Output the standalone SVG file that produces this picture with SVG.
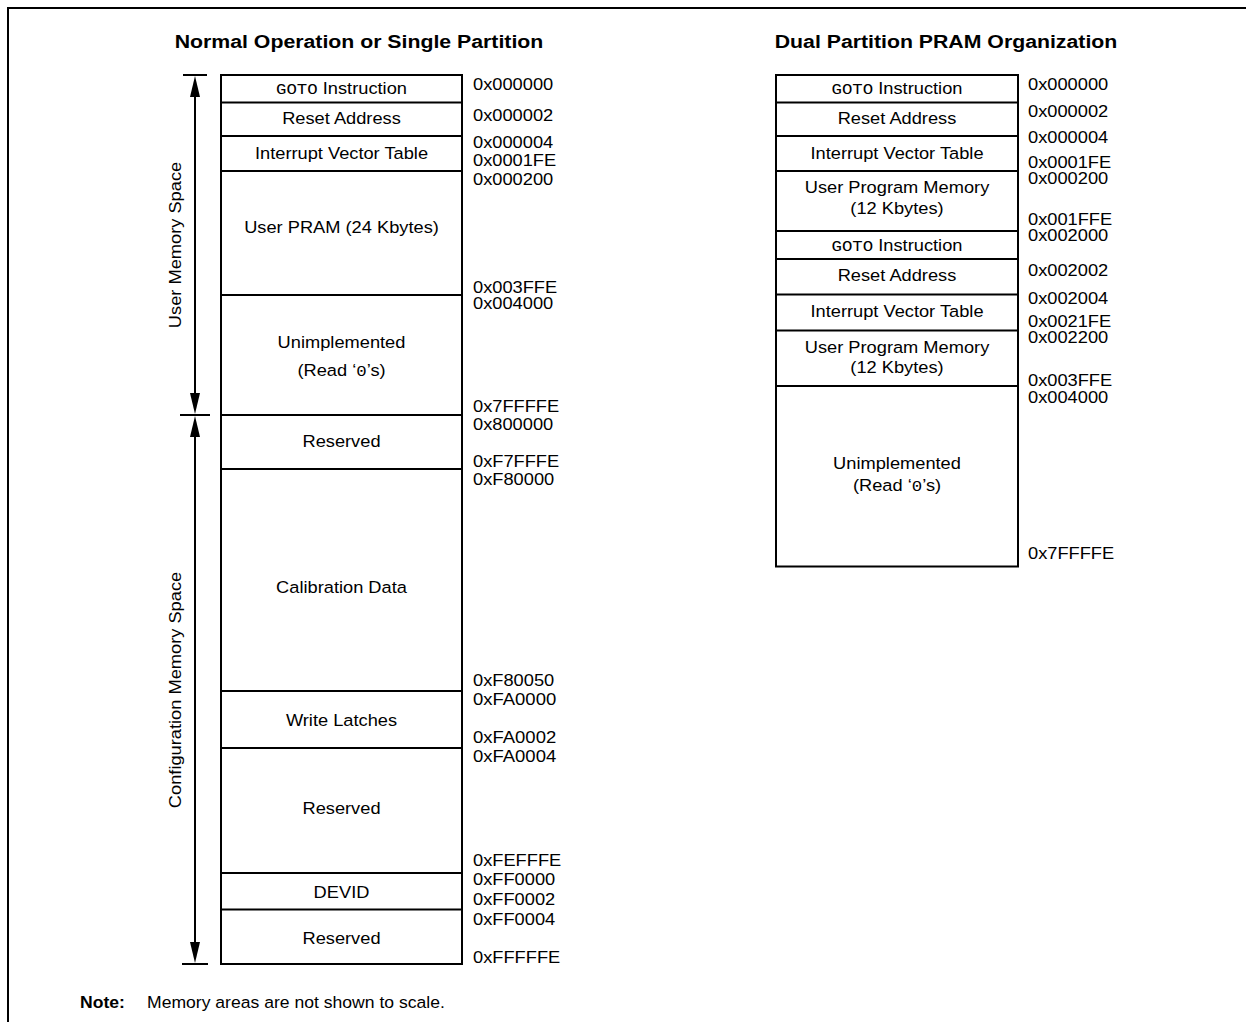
<svg xmlns="http://www.w3.org/2000/svg" width="1246" height="1022" viewBox="0 0 1246 1022">
<style>
text{font-family:"Liberation Sans",Arial,sans-serif;fill:#000}
.lbl{font-size:16.3px;text-anchor:middle}
.addr{font-size:16.3px}
.hd{font-size:19px;font-weight:bold;text-anchor:middle}
.mono{font-family:"Liberation Mono","Courier New",monospace;font-size:15.5px}
.box{fill:#fff;stroke:#000;stroke-width:2}
.sep{stroke:#000;stroke-width:2}
.frame{fill:none;stroke:#000;stroke-width:2}
.axis{stroke:#000;stroke-width:2;fill:none}
.head{fill:#000}
</style>
<rect width="1246" height="1022" fill="#fff"/>
<path class="frame" d="M8,1022 V8 H1246"/>

<text class="hd" transform="translate(359 48) scale(1.12 1)">Normal Operation or Single Partition</text>
<text class="hd" transform="translate(946 48) scale(1.12 1)">Dual Partition PRAM Organization</text>

<g id="connectors">
<path class="axis" d="M195,90 V400 M195,432 V948 M183,75 H207 M180,415 H210 M182,964 H208"/>
<path class="head" d="M195,76 L200,97 L190,97 Z"/>
<path class="head" d="M195,414 L200,393 L190,393 Z"/>
<path class="head" d="M195,416 L200,437 L190,437 Z"/>
<path class="head" d="M195,963 L200,942 L190,942 Z"/>
</g>

<text class="lbl" transform="translate(181 245) rotate(-90) scale(1.12 1)">User Memory Space</text>
<text class="lbl" transform="translate(181 690) rotate(-90) scale(1.12 1)">Configuration Memory Space</text>

<g id="single-map">
<rect class="box" x="221" y="75" width="241" height="889"/>
<path class="sep" d="M221,102.5 H462 M221,136 H462 M221,171 H462 M221,295 H462 M221,415 H462 M221,469 H462 M221,691 H462 M221,748 H462 M221,873 H462 M221,909.5 H462"/>
</g>
<g id="s-goto"><text class="lbl" transform="translate(341.5 94) scale(1.12 1)"><tspan class="mono">GOTO</tspan> Instruction</text></g>
<g id="s-reset"><text class="lbl" transform="translate(341.5 124) scale(1.12 1)">Reset Address</text></g>
<g id="s-ivt"><text class="lbl" transform="translate(341.5 159) scale(1.12 1)">Interrupt Vector Table</text></g>
<g id="s-pram"><text class="lbl" transform="translate(341.5 233) scale(1.12 1)">User PRAM (24 Kbytes)</text></g>
<g id="s-unimpl"><text class="lbl" transform="translate(341.5 348) scale(1.12 1)">Unimplemented</text><text class="lbl" transform="translate(341.5 376) scale(1.12 1)">(Read ‘<tspan class="mono">0</tspan>’s)</text></g>
<g id="s-res1"><text class="lbl" transform="translate(341.5 447) scale(1.12 1)">Reserved</text></g>
<g id="s-cal"><text class="lbl" transform="translate(341.5 593) scale(1.12 1)">Calibration Data</text></g>
<g id="s-wl"><text class="lbl" transform="translate(341.5 726) scale(1.12 1)">Write Latches</text></g>
<g id="s-res2"><text class="lbl" transform="translate(341.5 814) scale(1.12 1)">Reserved</text></g>
<g id="s-devid"><text class="lbl" transform="translate(341.5 898) scale(1.12 1)">DEVID</text></g>
<g id="s-res3"><text class="lbl" transform="translate(341.5 944) scale(1.12 1)">Reserved</text></g>

<g id="single-addr">
<text class="addr" x="473" y="90" textLength="80.2" lengthAdjust="spacingAndGlyphs">0x000000</text>
<text class="addr" x="473" y="121" textLength="80.2" lengthAdjust="spacingAndGlyphs">0x000002</text>
<text class="addr" x="473" y="148" textLength="80.2" lengthAdjust="spacingAndGlyphs">0x000004</text>
<text class="addr" x="473" y="166" textLength="83.2" lengthAdjust="spacingAndGlyphs">0x0001FE</text>
<text class="addr" x="473" y="185" textLength="80.2" lengthAdjust="spacingAndGlyphs">0x000200</text>
<text class="addr" x="473" y="293" textLength="84.2" lengthAdjust="spacingAndGlyphs">0x003FFE</text>
<text class="addr" x="473" y="309" textLength="80.2" lengthAdjust="spacingAndGlyphs">0x004000</text>
<text class="addr" x="473" y="412" textLength="86.2" lengthAdjust="spacingAndGlyphs">0x7FFFFE</text>
<text class="addr" x="473" y="430" textLength="80.2" lengthAdjust="spacingAndGlyphs">0x800000</text>
<text class="addr" x="473" y="467" textLength="86.2" lengthAdjust="spacingAndGlyphs">0xF7FFFE</text>
<text class="addr" x="473" y="485" textLength="81.2" lengthAdjust="spacingAndGlyphs">0xF80000</text>
<text class="addr" x="473" y="686" textLength="81.2" lengthAdjust="spacingAndGlyphs">0xF80050</text>
<text class="addr" x="473" y="705" textLength="83.2" lengthAdjust="spacingAndGlyphs">0xFA0000</text>
<text class="addr" x="473" y="743" textLength="83.2" lengthAdjust="spacingAndGlyphs">0xFA0002</text>
<text class="addr" x="473" y="762" textLength="83.2" lengthAdjust="spacingAndGlyphs">0xFA0004</text>
<text class="addr" x="473" y="866" textLength="88.2" lengthAdjust="spacingAndGlyphs">0xFEFFFE</text>
<text class="addr" x="473" y="885" textLength="82.2" lengthAdjust="spacingAndGlyphs">0xFF0000</text>
<text class="addr" x="473" y="905" textLength="82.2" lengthAdjust="spacingAndGlyphs">0xFF0002</text>
<text class="addr" x="473" y="925" textLength="82.2" lengthAdjust="spacingAndGlyphs">0xFF0004</text>
<text class="addr" x="473" y="963" textLength="87.2" lengthAdjust="spacingAndGlyphs">0xFFFFFE</text>
</g>

<g id="dual-map">
<rect class="box" x="776" y="75" width="242" height="491.5"/>
<path class="sep" d="M776,102.5 H1018 M776,136 H1018 M776,171 H1018 M776,231 H1018 M776,259 H1018 M776,294.5 H1018 M776,330.5 H1018 M776,386 H1018"/>
</g>
<g id="d-goto1"><text class="lbl" transform="translate(897 94) scale(1.12 1)"><tspan class="mono">GOTO</tspan> Instruction</text></g>
<g id="d-reset1"><text class="lbl" transform="translate(897 124) scale(1.12 1)">Reset Address</text></g>
<g id="d-ivt1"><text class="lbl" transform="translate(897 159) scale(1.12 1)">Interrupt Vector Table</text></g>
<g id="d-upm1"><text class="lbl" transform="translate(897 193) scale(1.12 1)">User Program Memory</text><text class="lbl" transform="translate(897 214) scale(1.12 1)">(12 Kbytes)</text></g>
<g id="d-goto2"><text class="lbl" transform="translate(897 251) scale(1.12 1)"><tspan class="mono">GOTO</tspan> Instruction</text></g>
<g id="d-reset2"><text class="lbl" transform="translate(897 281) scale(1.12 1)">Reset Address</text></g>
<g id="d-ivt2"><text class="lbl" transform="translate(897 317) scale(1.12 1)">Interrupt Vector Table</text></g>
<g id="d-upm2"><text class="lbl" transform="translate(897 353) scale(1.12 1)">User Program Memory</text><text class="lbl" transform="translate(897 373) scale(1.12 1)">(12 Kbytes)</text></g>
<g id="d-unimpl"><text class="lbl" transform="translate(897 469) scale(1.12 1)">Unimplemented</text><text class="lbl" transform="translate(897 491) scale(1.12 1)">(Read ‘<tspan class="mono">0</tspan>’s)</text></g>

<g id="dual-addr">
<text class="addr" x="1028" y="90" textLength="80.2" lengthAdjust="spacingAndGlyphs">0x000000</text>
<text class="addr" x="1028" y="117" textLength="80.2" lengthAdjust="spacingAndGlyphs">0x000002</text>
<text class="addr" x="1028" y="143" textLength="80.2" lengthAdjust="spacingAndGlyphs">0x000004</text>
<text class="addr" x="1028" y="168" textLength="83.2" lengthAdjust="spacingAndGlyphs">0x0001FE</text>
<text class="addr" x="1028" y="184" textLength="80.2" lengthAdjust="spacingAndGlyphs">0x000200</text>
<text class="addr" x="1028" y="225" textLength="84.2" lengthAdjust="spacingAndGlyphs">0x001FFE</text>
<text class="addr" x="1028" y="241" textLength="80.2" lengthAdjust="spacingAndGlyphs">0x002000</text>
<text class="addr" x="1028" y="276" textLength="80.2" lengthAdjust="spacingAndGlyphs">0x002002</text>
<text class="addr" x="1028" y="304" textLength="80.2" lengthAdjust="spacingAndGlyphs">0x002004</text>
<text class="addr" x="1028" y="327" textLength="83.2" lengthAdjust="spacingAndGlyphs">0x0021FE</text>
<text class="addr" x="1028" y="343" textLength="80.2" lengthAdjust="spacingAndGlyphs">0x002200</text>
<text class="addr" x="1028" y="386" textLength="84.2" lengthAdjust="spacingAndGlyphs">0x003FFE</text>
<text class="addr" x="1028" y="403" textLength="80.2" lengthAdjust="spacingAndGlyphs">0x004000</text>
<text class="addr" x="1028" y="559" textLength="86.2" lengthAdjust="spacingAndGlyphs">0x7FFFFE</text>
</g>

<g id="note">
<text style="font-size:15.7px;font-weight:bold" transform="translate(80 1008) scale(1.12 1)">Note:</text>
<text style="font-size:15.7px" transform="translate(147 1008) scale(1.12 1)">Memory areas are not shown to scale.</text>
</g>
</svg>
